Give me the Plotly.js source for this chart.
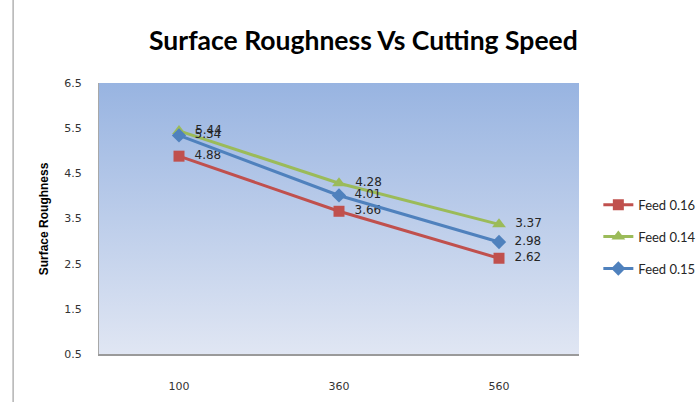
<!DOCTYPE html>
<html>
<head>
<meta charset="utf-8">
<script src="https://cdn.plot.ly/plotly-3.0.1.min.js"></script>
<style>
  html, body { margin: 0; padding: 0; background: #ffffff; }
  #chart { width: 699px; height: 402px; }
</style>
</head>
<body>
<div id="chart"></div>
<script>
// Cutting speeds (categories on the x axis)
const speeds = ['100', '360', '560'];

// Surface roughness for each feed rate
const feed016 = [4.88, 3.66, 2.62];
const feed014 = [5.44, 4.28, 3.37];
const feed015 = [5.34, 4.01, 2.98];

const seriesNames = ['Feed 0.16', 'Feed 0.14', 'Feed 0.15'];
const yTicks = [0.5, 1.5, 2.5, 3.5, 4.5, 5.5, 6.5];

const labelFont = { family: 'DejaVu Sans, Verdana, sans-serif', size: 12, color: '#262626' };

function series(name, values, color, symbol, size) {
  return {
    type: 'scatter',
    mode: 'lines+markers+text',
    name: name,
    legendgroup: name,
    x: speeds,
    y: values,
    // value labels sit a little to the right of each marker
    texttemplate: '\u00a0\u00a0%{y:.2f}',
    textposition: 'middle right',
    textfont: labelFont,
    line: { color: color, width: 3 },
    marker: { color: color, symbol: symbol, size: size },
    cliponaxis: false,
    hoverinfo: 'x+y+name'
  };
}

const traces = [
  series(seriesNames[0], feed016, '#c0504d', 'square', 11),
  series(seriesNames[1], feed014, '#9bbb59', 'triangle-up', 12),
  series(seriesNames[2], feed015, '#4f81bd', 'diamond', 11)
];

// vertical gradient for the plotting area
const gradSvg =
  '<svg xmlns="http://www.w3.org/2000/svg" width="100" height="100" preserveAspectRatio="none">' +
  '<defs><linearGradient id="g" x1="0" y1="0" x2="0" y2="1">' +
  '<stop offset="0" stop-color="#98b4e1"/>' +
  '<stop offset="1" stop-color="#e0e6f3"/>' +
  '</linearGradient></defs>' +
  '<rect width="100" height="100" fill="url(#g)"/></svg>';
const gradUri = 'data:image/svg+xml;charset=utf-8,' + encodeURIComponent(gradSvg);

const layout = {
  width: 699,
  height: 402,
  margin: { l: 99, r: 120, t: 83, b: 48 },
  paper_bgcolor: '#ffffff',
  plot_bgcolor: 'rgba(0,0,0,0)',
  showlegend: true,
  legend: {
    xref: 'container', yref: 'container',
    x: 0.856, xanchor: 'left',
    y: 0.528, yanchor: 'top',
    font: { family: 'Lato, DejaVu Sans, sans-serif', size: 13, color: '#262626' },
    tracegroupgap: 12,
    itemwidth: 30,
    bgcolor: 'rgba(0,0,0,0)'
  },
  xaxis: {
    type: 'category',
    range: [-0.5, 2.5],
    showgrid: false,
    zeroline: false,
    showline: true,
    linecolor: '#9a9a9a',
    linewidth: 2,
    ticks: 'outside',
    ticklen: 21,
    tickcolor: 'rgba(0,0,0,0)',
    tickfont: { family: 'DejaVu Sans, Verdana, sans-serif', size: 11, color: '#333333' },
    fixedrange: true
  },
  yaxis: {
    range: [0.5, 6.5],
    tickvals: yTicks,
    ticktext: yTicks.map(v => v.toFixed(1)),
    showgrid: false,
    zeroline: false,
    showline: true,
    linecolor: '#a8a8a8',
    linewidth: 1,
    ticks: 'outside',
    ticklen: 14,
    tickcolor: 'rgba(0,0,0,0)',
    tickfont: { family: 'DejaVu Sans, Verdana, sans-serif', size: 11, color: '#333333' },
    fixedrange: true
  },
  images: [{
    source: gradUri,
    xref: 'paper', yref: 'paper',
    x: 0, y: 1, sizex: 1, sizey: 1,
    xanchor: 'left', yanchor: 'top',
    sizing: 'stretch',
    layer: 'below'
  }],
  shapes: [{
    type: 'line',
    xref: 'paper', yref: 'paper',
    x0: -0.179, x1: -0.179, y0: -0.18, y1: 1.31,
    line: { color: '#8c8c8c', width: 1 }
  }],
  annotations: [
    {
      text: '<b>Surface Roughness Vs Cutting Speed</b>',
      xref: 'paper', yref: 'paper',
      x: 0.552, y: 1.16,
      xanchor: 'center', yanchor: 'middle',
      showarrow: false,
      font: { family: 'Lato, Liberation Sans, sans-serif', size: 26.5, color: '#000000' }
    },
    {
      text: '<b>Surface Roughness</b>',
      xref: 'paper', yref: 'paper',
      x: -0.115, y: 0.5,
      xanchor: 'center', yanchor: 'middle',
      textangle: -90,
      showarrow: false,
      font: { family: 'Liberation Sans, sans-serif', size: 12, color: '#000000' }
    }
  ]
};

Plotly.newPlot('chart', traces, layout, { staticPlot: true, displayModeBar: false });
</script>
</body>
</html>
